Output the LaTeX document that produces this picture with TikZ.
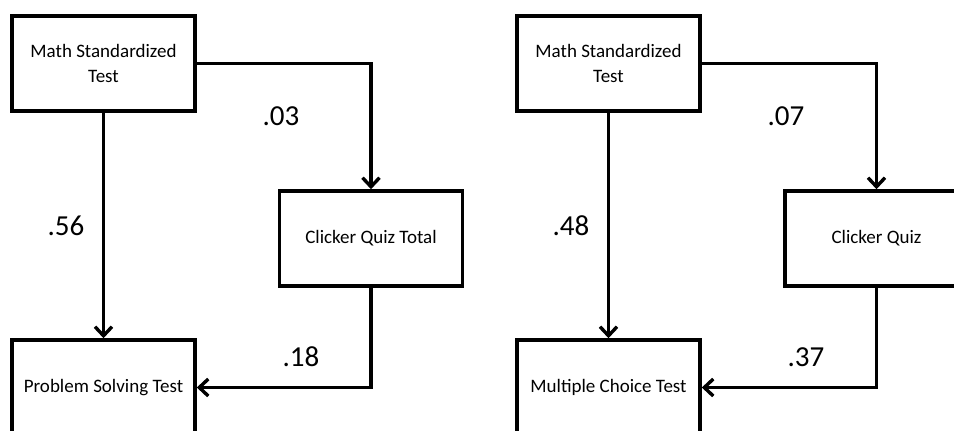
\documentclass[tikz,border=0pt]{standalone}
\usepackage{fontspec}
\setmainfont{Carlito}
\usetikzlibrary{arrows.meta}
\tikzset{
  box/.style={draw=black, line width=3.6pt, minimum width=183pt, minimum height=95pt,
    inner sep=0pt, align=center, font=\fontsize{19}{25}\selectfont},
  conn/.style={line width=3.8pt, -{Straight Barb[length=9pt,width=17pt,line width=3.4pt]}},
  coef/.style={font=\fontsize{29}{32}\selectfont, inner sep=0pt}
}
\begin{document}
\begin{tikzpicture}[x=1pt,y=-1pt]
  \useasboundingbox (0,0) rectangle (954,431);
  \clip (0,0) rectangle (954,431);
  \fill[white] (0,0) rectangle (954,431);

  % left model: problem solving test
  \node[box] (mathA)  at (103.5,63.5)  {Math Standardized\\Test};
  \node[box] (quizA)  at (371,238.5)   {Clicker Quiz Total};
  \node[box] (probA)  at (103.5,387.5) {Problem Solving Test};
  \draw[conn] (mathA.east) -| (quizA.north);
  \draw[conn] (mathA.south) -- (probA.north);
  \draw[conn] (quizA.south) |- (probA.east);
  \node[coef] (cA1) at (281,116) {.03};
  \node[coef] (cA2) at (66,226)  {.56};
  \node[coef] (cA3) at (301,357) {.18};

  % right model: multiple choice test
  \node[box] (mathB)  at (608.5,63.5)  {Math Standardized\\Test};
  \node[box] (quizB)  at (876.5,238.5) {Clicker Quiz};
  \node[box] (multB)  at (608.5,387.5) {Multiple Choice Test};
  \draw[conn] (mathB.east) -| (quizB.north);
  \draw[conn] (mathB.south) -- (multB.north);
  \draw[conn] (quizB.south) |- (multB.east);
  \node[coef] (cB1) at (786,116) {.07};
  \node[coef] (cB2) at (571,226) {.48};
  \node[coef] (cB3) at (806,357) {.37};
\end{tikzpicture}
\end{document}
